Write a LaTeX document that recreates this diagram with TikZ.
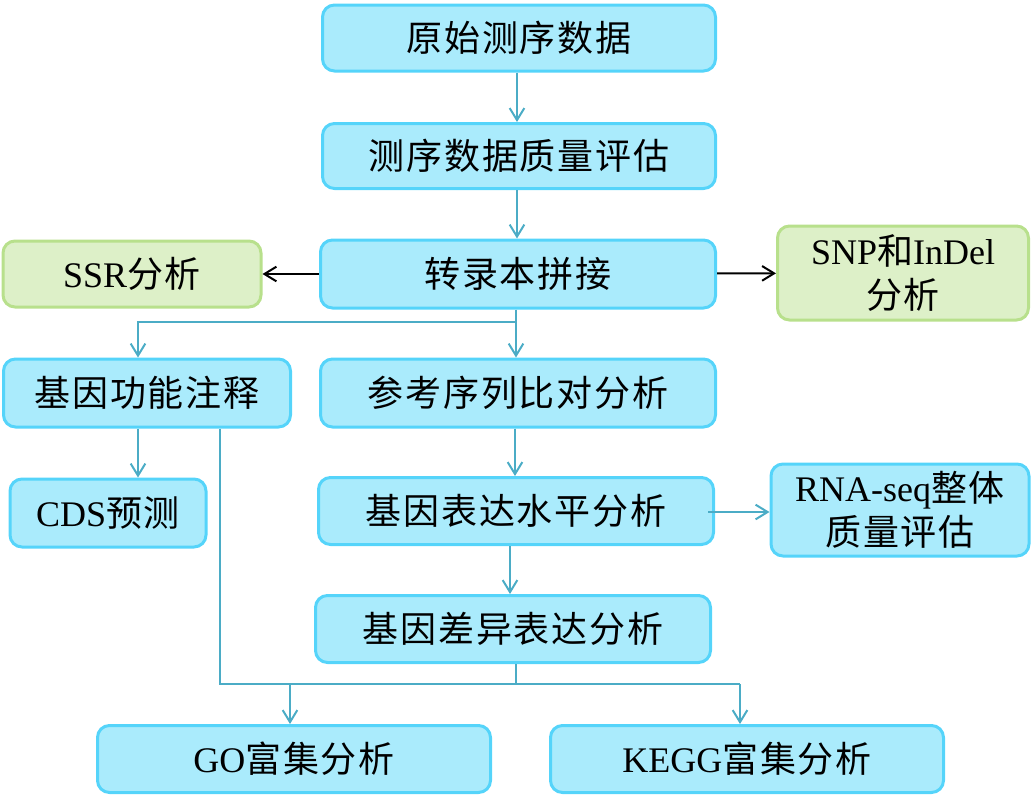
\documentclass[tikz,border=0pt]{standalone}
\usepackage{fontspec}
\setmainfont{Liberation Serif}
\newfontfamily\cjk[LetterSpace=5]{Noto Sans CJK SC}
\usetikzlibrary{calc,arrows.meta,positioning}
\definecolor{boxfill}{HTML}{AAEBFC}
\definecolor{boxline}{HTML}{55D4FA}
\definecolor{greenfill}{HTML}{DDF0C8}
\definecolor{greenline}{HTML}{B8E08C}
\definecolor{linkcol}{HTML}{4BACC6}
\tikzset{
  box/.style={draw=boxline,fill=boxfill,line width=2.25pt,rounded corners=9pt,
    inner sep=0pt,align=center,font=\fontsize{27}{33}\selectfont},
  greenbox/.style={box,draw=greenline,fill=greenfill},
  boxw/.style={minimum width=#1*0.75pt},
  boxh/.style={minimum height=#1*0.75pt},
  link/.style={draw=linkcol,line width=1.5pt,-{Straight Barb[length=9pt,width=11pt]}},
  plainlink/.style={draw=linkcol,line width=1.5pt},
  blklink/.style={draw=black,line width=1.5pt,-{Straight Barb[length=9pt,width=11pt]}}
}

\begin{document}
\begin{tikzpicture}[x=0.75pt,y=-0.75pt]
  \useasboundingbox (0,0) rectangle (1032,808);
  % main column
  \node[box,boxw=393,boxh=66] (raw) at (519,38) {\cjk 原始测序数据};
  \node[box,boxw=393,boxh=65] (qc) at (519,156) {\cjk 测序数据质量评估};
  \node[box,boxw=395,boxh=68] (asm) at (518,274) {\cjk 转录本拼接};
  \node[box,boxw=395,boxh=68] (align) at (518,393) {\cjk 参考序列比对分析};
  \node[box,boxw=395,boxh=67] (expr) at (516,511) {\cjk 基因表达水平分析};
  \node[box,boxw=395,boxh=67] (deg) at (513,629) {\cjk 基因差异表达分析};
  % side boxes
  \node[greenbox,boxw=258,boxh=66] (ssr) at (132,274) {SSR{\cjk 分析}};
  \node[greenbox,boxw=251,boxh=94] (snp) at (903,273) {SNP{\cjk 和}InDel\\{\cjk 分析}};
  \node[box,boxw=287,boxh=68] (anno) at (147,393) {\cjk 基因功能注释};
  \node[box,boxw=196,boxh=68] (cds) at (108,513) {CDS{\cjk 预测}};
  \node[box,boxw=258,boxh=92] (rnaqc) at (900,510) {RNA-seq{\cjk 整体}\\{\cjk 质量评估}};
  \node[box,boxw=393,boxh=67] (go) at (294,759) {GO{\cjk 富集分析}};
  \node[box,boxw=393,boxh=67] (kegg) at (747,759) {KEGG{\cjk 富集分析}};
  % branch points
  \coordinate (f1) at (516,322);
  \coordinate (f2) at (138,322);
  \coordinate (f3) at (516,684);
  \coordinate (f4) at (220,684);
  \coordinate (f5) at (740,684);
  % connectors
  \draw[link] (raw.south -| 517,0) -- (qc.north -| 517,0);
  \draw[link] (qc.south -| 517,0) -- (asm.north -| 517,0);
  \draw[blklink] (asm) -- (ssr);
  \draw[blklink] (asm) -- (snp);
  \draw[link] (asm.south -| f1) -- (align.north -| f1);
  \draw[link] (f1) -- (f2) -- (anno.north -| f2);
  \draw[link] (anno.south -| f2) -- (cds.north -| f2);
  \draw[link] (align.south -| 515,0) -- (expr.north -| 515,0);
  \draw[link] ($(expr.east)+(-7,1)$) -- (rnaqc.west |- 0,512);
  \draw[link] (expr.south -| 510,0) -- (deg.north -| 510,0);
  \draw[plainlink] (deg.south -| f3) -- (f3);
  \draw[plainlink] (anno.south -| f4) -- (f4) -- (f5);
  \draw[link] (f4 -| 290,0) -- (go.north -| 290,0);
  \draw[link] (f5) -- (kegg.north -| f5);
\end{tikzpicture}
\end{document}
